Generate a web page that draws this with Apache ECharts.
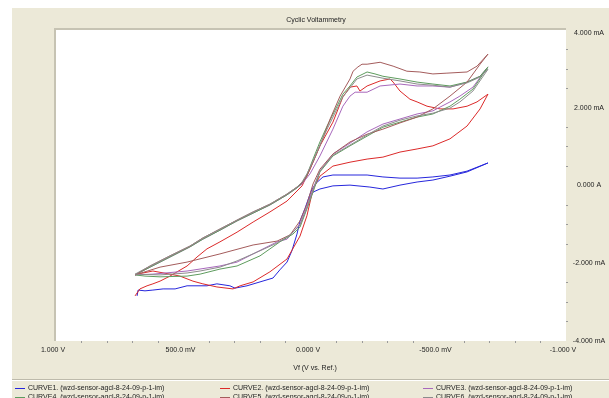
<!DOCTYPE html>
<html><head><meta charset="utf-8">
<script src="https://cdn.jsdelivr.net/npm/echarts/dist/echarts.min.js"></script>
<style>html,body{margin:0;padding:0;background:#fff}#c{width:609px;height:398px}</style>
</head><body><div id="c"></div>
<script>
const chartTitle = 'Cyclic Voltammetry';
const xAxisName = 'Vf (V vs. Ref.)';
const curveNames = [
  'CURVE1. (wzd-sensor-agcl-8-24-09-p-1-im)',
  'CURVE2. (wzd-sensor-agcl-8-24-09-p-1-im)',
  'CURVE3. (wzd-sensor-agcl-8-24-09-p-1-im)',
  'CURVE4. (wzd-sensor-agcl-8-24-09-p-1-im)',
  'CURVE5. (wzd-sensor-agcl-8-24-09-p-1-im)',
  'CURVE6. (wzd-sensor-agcl-8-24-09-p-1-im)'
];
const curveColors = ['#2626dc', '#dc2a2a', '#a868bc', '#5e9c5e', '#a45c5c', '#8c8c8c'];
const xTickLabels = {'1': '1.000 V', '0.5': '500.0 mV', '0': '0.000 V', '-0.5': '-500.0 mV', '-1': '-1.000 V'};
const yTickLabels = {'4': '4.000 mA', '2': '2.000 mA', '0': '0.000 A', '-2': '-2.000 mA', '-4': '-4.000 mA'};

// [potential V, current mA]
const curve1 = [[0.682,-2.84],[0.678,-2.69],[0.651,-2.71],[0.620,-2.69],[0.580,-2.66],[0.533,-2.66],[0.486,-2.58],[0.447,-2.58],[0.408,-2.58],[0.369,-2.53],[0.318,-2.58],[0.298,-2.64],[0.251,-2.58],[0.200,-2.48],[0.149,-2.38],[0.122,-2.17],[0.094,-1.97],[0.075,-1.68],[0.055,-1.25],[0.043,-0.91],[0.024,-0.60],[0.008,-0.30],[-0.004,-0.09],[-0.020,0.06],[-0.047,0.22],[-0.086,0.27],[-0.153,0.27],[-0.220,0.27],[-0.282,0.22],[-0.349,0.19],[-0.416,0.19],[-0.478,0.22],[-0.545,0.27],[-0.612,0.37],[-0.694,0.58],[-0.612,0.35],[-0.545,0.24],[-0.478,0.14],[-0.416,0.09],[-0.349,0.01],[-0.282,-0.09],[-0.231,-0.04],[-0.153,0.01],[-0.086,-0.01],[-0.035,-0.09],[-0.008,-0.17],[0.008,-0.35]];
const curve2 = [[0.690,-2.84],[0.671,-2.66],[0.643,-2.58],[0.620,-2.53],[0.592,-2.46],[0.553,-2.33],[0.525,-2.22],[0.486,-2.07],[0.447,-1.84],[0.408,-1.63],[0.357,-1.45],[0.290,-1.20],[0.227,-0.94],[0.161,-0.68],[0.094,-0.40],[0.035,-0.01],[0.004,0.42],[-0.035,1.02],[-0.086,1.63],[-0.125,2.28],[-0.153,2.53],[-0.180,2.56],[-0.192,2.43],[-0.220,2.56],[-0.271,2.69],[-0.310,2.74],[-0.322,2.66],[-0.349,2.43],[-0.388,2.22],[-0.416,2.15],[-0.455,2.04],[-0.506,1.97],[-0.557,1.97],[-0.612,2.04],[-0.651,2.15],[-0.694,2.35],[-0.663,1.97],[-0.612,1.53],[-0.545,1.20],[-0.478,1.02],[-0.416,0.94],[-0.349,0.86],[-0.282,0.73],[-0.220,0.68],[-0.153,0.60],[-0.086,0.50],[-0.035,0.24],[-0.008,-0.09],[0.016,-0.78],[0.043,-1.30],[0.094,-1.89],[0.161,-2.22],[0.227,-2.48],[0.278,-2.58],[0.306,-2.66],[0.369,-2.61],[0.424,-2.53],[0.463,-2.46],[0.514,-2.33],[0.553,-2.28],[0.620,-2.20],[0.682,-2.28]];
const curve3 = [[0.690,-2.30],[0.631,-2.10],[0.553,-1.84],[0.475,-1.58],[0.424,-1.38],[0.357,-1.15],[0.290,-0.91],[0.227,-0.71],[0.161,-0.50],[0.094,-0.24],[0.055,-0.06],[0.035,0.04],[0.004,0.30],[-0.035,0.76],[-0.086,1.45],[-0.125,2.04],[-0.153,2.30],[-0.173,2.40],[-0.220,2.40],[-0.271,2.56],[-0.349,2.61],[-0.416,2.56],[-0.478,2.56],[-0.545,2.53],[-0.612,2.66],[-0.663,2.81],[-0.694,3.05],[-0.635,2.53],[-0.584,2.30],[-0.545,2.15],[-0.478,1.92],[-0.416,1.84],[-0.349,1.71],[-0.282,1.58],[-0.220,1.38],[-0.153,1.09],[-0.086,0.81],[-0.035,0.37],[-0.008,-0.09],[0.016,-0.55],[0.043,-0.99],[0.094,-1.38],[0.133,-1.45],[0.227,-1.76],[0.290,-1.97],[0.357,-2.07],[0.486,-2.20],[0.620,-2.28],[0.690,-2.30]];
const curve4 = [[0.690,-2.30],[0.631,-2.10],[0.553,-1.84],[0.475,-1.58],[0.424,-1.38],[0.357,-1.15],[0.290,-0.91],[0.227,-0.71],[0.161,-0.50],[0.094,-0.24],[0.055,-0.06],[0.035,0.06],[0.016,0.27],[-0.008,0.68],[-0.035,1.12],[-0.063,1.53],[-0.102,2.04],[-0.125,2.35],[-0.153,2.56],[-0.180,2.79],[-0.220,2.92],[-0.251,2.87],[-0.282,2.81],[-0.349,2.74],[-0.416,2.66],[-0.478,2.61],[-0.545,2.56],[-0.612,2.66],[-0.663,2.81],[-0.694,3.05],[-0.635,2.48],[-0.584,2.22],[-0.545,2.04],[-0.478,1.84],[-0.416,1.76],[-0.349,1.63],[-0.282,1.50],[-0.220,1.27],[-0.153,1.02],[-0.086,0.76],[-0.035,0.35],[-0.008,-0.17],[0.016,-0.60],[0.043,-1.07],[0.071,-1.25],[0.122,-1.45],[0.200,-1.81],[0.290,-2.07],[0.357,-2.15],[0.435,-2.28],[0.486,-2.33],[0.592,-2.35],[0.651,-2.33],[0.690,-2.30]];
const curve5 = [[0.690,-2.30],[0.631,-2.07],[0.553,-1.81],[0.475,-1.56],[0.424,-1.35],[0.357,-1.12],[0.290,-0.89],[0.227,-0.68],[0.161,-0.48],[0.094,-0.22],[0.055,-0.04],[0.035,0.06],[0.016,0.24],[-0.008,0.60],[-0.035,1.02],[-0.075,1.71],[-0.114,2.30],[-0.153,2.74],[-0.165,2.94],[-0.184,3.05],[-0.200,3.12],[-0.220,3.12],[-0.271,3.17],[-0.322,3.07],[-0.376,2.94],[-0.427,2.92],[-0.478,2.87],[-0.533,2.89],[-0.612,2.92],[-0.651,3.07],[-0.694,3.38],[-0.663,3.12],[-0.612,2.66],[-0.545,2.30],[-0.478,1.97],[-0.416,1.76],[-0.349,1.61],[-0.282,1.45],[-0.220,1.32],[-0.153,1.12],[-0.086,0.81],[-0.035,0.42],[-0.008,0.04],[0.016,-0.48],[0.043,-0.91],[0.082,-1.27],[0.133,-1.43],[0.227,-1.53],[0.357,-1.76],[0.486,-1.97],[0.592,-2.10],[0.690,-2.30]];
const curve6 = [[0.690,-2.28],[0.631,-2.07],[0.553,-1.81],[0.475,-1.56],[0.424,-1.35],[0.357,-1.12],[0.290,-0.89],[0.227,-0.68],[0.161,-0.48],[0.094,-0.22],[0.055,-0.04],[0.035,0.09],[0.016,0.30],[-0.008,0.63],[-0.035,1.04],[-0.063,1.45],[-0.102,1.97],[-0.125,2.28],[-0.153,2.51],[-0.180,2.74],[-0.220,2.84],[-0.282,2.76],[-0.349,2.69],[-0.416,2.61],[-0.478,2.58],[-0.545,2.53],[-0.612,2.64],[-0.663,2.79],[-0.694,2.99],[-0.635,2.43],[-0.584,2.15],[-0.545,1.99],[-0.478,1.86],[-0.416,1.79],[-0.349,1.68],[-0.282,1.53],[-0.220,1.30],[-0.153,1.04],[-0.086,0.78],[-0.035,0.37],[-0.008,-0.12],[0.016,-0.58],[0.043,-1.02],[0.082,-1.27],[0.133,-1.48],[0.200,-1.68],[0.290,-1.94],[0.357,-2.10],[0.435,-2.20],[0.486,-2.25],[0.592,-2.30],[0.690,-2.28]];
const curves = [curve1, curve2, curve3, curve4, curve5, curve6];

const FONT = 'Liberation Sans';
const TXT = '#222';
const chart = echarts.init(document.getElementById('c'), null, {renderer: 'canvas'});

const legendPos = [[15, 385], [220, 385], [423, 385], [15, 394], [220, 394], [423, 394]];
const legends = curveNames.map((n, i) => ({
  data: [n], left: legendPos[i][0], top: legendPos[i][1], padding: 0,
  icon: 'rect', itemWidth: 10, itemHeight: 1, itemGap: 0,
  textStyle: {fontFamily: FONT, fontSize: 7, color: TXT, padding: [0, 0, 0, -2]},
  selectedMode: false
}));

chart.setOption({
  animation: false,
  backgroundColor: '#ffffff',
  title: {
    text: chartTitle, left: 316, top: 17, textAlign: 'center', padding: 0,
    textStyle: {fontFamily: FONT, fontSize: 7, fontWeight: 'normal', color: TXT}
  },
  graphic: [
    {type: 'rect', z: -10, silent: true, shape: {x: 12, y: 8, width: 597, height: 390}, style: {fill: '#ECE9D8'}},
    {type: 'rect', z: -5, silent: true, shape: {x: 54, y: 28, width: 2, height: 313}, style: {fill: '#c6c3b3'}},
    {type: 'rect', z: -5, silent: true, shape: {x: 54, y: 28, width: 512, height: 2}, style: {fill: '#c6c3b3'}},
    {type: 'rect', z: -5, silent: true, shape: {x: 12, y: 379, width: 597, height: 1}, style: {fill: '#bdbaab'}},
    {type: 'rect', z: -5, silent: true, shape: {x: 12, y: 380, width: 597, height: 1}, style: {fill: '#ffffff'}}
  ],
  legend: legends,
  grid: {left: 56, right: 43, top: 30, bottom: 57, show: true, backgroundColor: '#ffffff', borderWidth: 0, containLabel: false, outerBoundsMode: 'none'},
  xAxis: {
    type: 'value', inverse: true, min: -1, max: 1, interval: 0.5, position: 'bottom',
    name: xAxisName, nameLocation: 'middle', nameGap: 24,
    nameTextStyle: {fontFamily: FONT, fontSize: 7, color: TXT, padding: [0, 0, 0, 8]},
    axisLine: {show: false, onZero: false}, axisTick: {show: false},
    minorTick: {show: true, splitNumber: 5, length: 2, lineStyle: {color: '#9a9a9a', width: 1}},
    splitLine: {show: false}, minorSplitLine: {show: false},
    axisLabel: {
      fontFamily: FONT, fontSize: 7, color: TXT, margin: 6, padding: [0, 6, 0, 0],
      formatter: v => xTickLabels[String(v)] || ''
    }
  },
  yAxis: {
    type: 'value', position: 'right', min: -4, max: 4, interval: 2,
    axisLine: {show: false, onZero: false}, axisTick: {show: false},
    minorTick: {show: true, splitNumber: 4, length: 2, lineStyle: {color: '#9a9a9a', width: 1}},
    splitLine: {show: false}, minorSplitLine: {show: false},
    axisLabel: {
      fontFamily: FONT, fontSize: 7, color: TXT, margin: 23, align: 'center',
      verticalAlignMaxLabel: 'top',
      formatter: v => yTickLabels[String(v)] || ''
    }
  },
  series: curves.map((d, i) => ({
    name: curveNames[i], type: 'line', data: d, showSymbol: false, symbol: 'none',
    color: curveColors[i], lineStyle: {width: 1, color: curveColors[i]}, clip: true
  }))
});
</script></body></html>
